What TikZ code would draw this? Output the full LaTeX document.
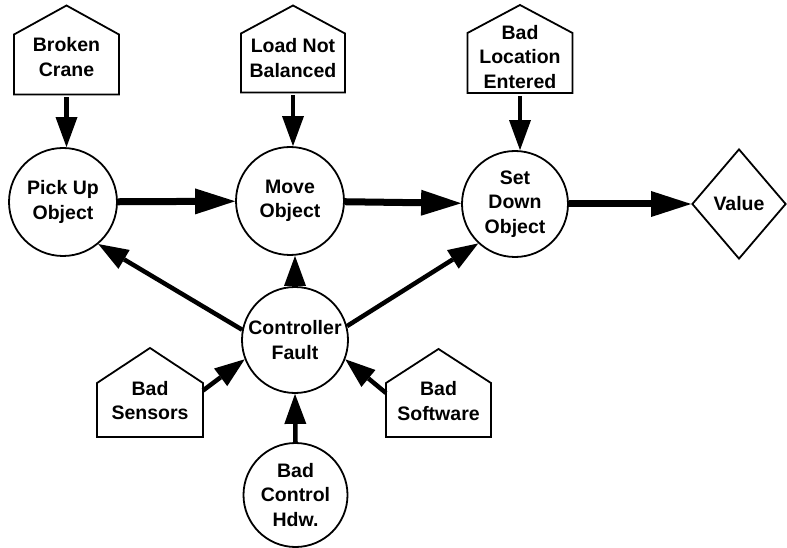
\documentclass[tikz,border=0pt]{standalone}
\usepackage{fontspec}
\setmainfont{Liberation Sans}
\usetikzlibrary{arrows.meta,shapes.geometric,calc}
\begin{document}
\begin{tikzpicture}[x=1pt,y=-1pt,
  every node/.style={font=\bfseries\fontsize{19.5}{24.5}\selectfont, align=center},
  bubble/.style={circle, draw, line width=1.8pt, inner sep=0pt, minimum size=#1},
  housebox/.style={rectangle, draw=none, inner sep=0pt, outer sep=0pt},
  houseline/.style={line width=1.8pt, line join=miter},
  thickarrow/.style={line width=7pt, -{Triangle[length=40pt,width=26pt,line width=0pt]}},
  thinarrow/.style={line width=4.5pt, -{Triangle[length=30pt,width=22pt,line width=0pt]}}
]
\useasboundingbox (0,0) rectangle (787,548);

% top houses
\node[housebox, minimum width=105pt, minimum height=89pt] (bc) at (66.5,50) {};
\draw[houseline] (bc.south west) -- ($(bc.north west)+(0,29)$) -- (bc.north) -- ($(bc.north east)+(0,29)$) -- (bc.south east) -- cycle;
\node (bct) at ($(bc)+(0,7)$) {Broken\\Crane};

\node[housebox, minimum width=104pt, minimum height=87pt] (lnb) at (293,49) {};
\draw[houseline] (lnb.south west) -- ($(lnb.north west)+(0,28)$) -- (lnb.north) -- ($(lnb.north east)+(0,28)$) -- (lnb.south east) -- cycle;
\node (lnbt) at ($(lnb)+(0,9)$) {Load Not\\Balanced};

\node[housebox, minimum width=105pt, minimum height=88pt] (ble) at (520,49) {};
\draw[houseline] (ble.south west) -- ($(ble.north west)+(0,28)$) -- (ble.north) -- ($(ble.north east)+(0,28)$) -- (ble.south east) -- cycle;
\node (blet) at ($(ble)+(0,8)$) {Bad\\Location\\Entered};

% main chain
\node[bubble=108pt] (pu) at (63,202) {Pick Up\\Object};
\node[bubble=108pt] (mo) at (290,201) {Move\\Object};
\node[bubble=106pt] (sd) at (515,204) {Set\\Down\\Object};
\node[diamond, draw, line width=1.8pt, inner sep=0pt, minimum width=94pt, minimum height=110pt] (val) at (739,204) {Value};

% controller
\node[bubble=106pt] (cf) at (295,340) {Controller\\Fault};
\node[bubble=104pt] (bch) at (295.5,495) {Bad\\Control\\Hdw.};

% bottom houses
\node[housebox, minimum width=106pt, minimum height=89pt] (bs) at (150,392.5) {};
\draw[houseline] (bs.south west) -- ($(bs.north west)+(0,35)$) -- (bs.north) -- ($(bs.north east)+(0,35)$) -- (bs.south east) -- cycle;
\node (bst) at ($(bs)+(0,8)$) {Bad\\Sensors};

\node[housebox, minimum width=105pt, minimum height=88pt] (bsw) at (438.5,393) {};
\draw[houseline] (bsw.south west) -- ($(bsw.north west)+(0,34)$) -- (bsw.north) -- ($(bsw.north east)+(0,34)$) -- (bsw.south east) -- cycle;
\node (bswt) at ($(bsw)+(0,8)$) {Bad\\Software};

% arrows
\draw[thinarrow, shorten <=3pt] (bc.south) -- (bc.south |- pu.north);
\draw[thinarrow, shorten <=3pt] (lnb.south) -- (lnb.south |- mo.north);
\draw[thinarrow, shorten <=3pt] (ble.south) -- (ble.south |- sd.north);

\draw[thickarrow] (pu) -- (mo);
\draw[thickarrow] (mo) -- (sd);
\draw[thickarrow] (sd) -- (val);

\draw[thinarrow] (cf.169) -- (pu.310);
\draw[thinarrow] (cf.15) -- (sd.227);
\draw[thinarrow] (cf.north) -- (cf.north |- mo.south);
\draw[thinarrow] (bch.north) -- (cf.south);
\draw[thinarrow] ([yshift=2pt]bs.east) -- (cf.201);
\draw[thinarrow] (bsw.west) -- (cf.339);
\end{tikzpicture}
\end{document}
